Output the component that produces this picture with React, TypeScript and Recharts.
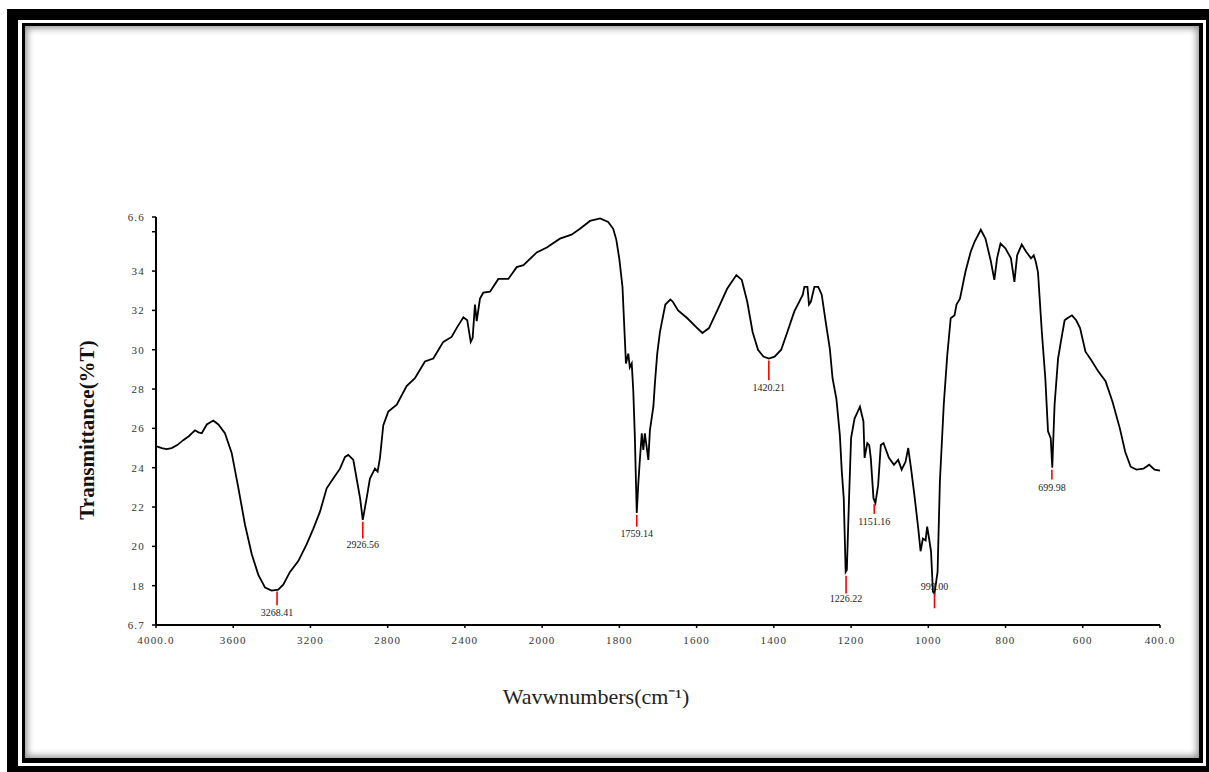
import React from 'react';
import { LineChart, Line, XAxis, YAxis, ReferenceLine, ReferenceDot } from 'recharts';

// spectrum (cm-1, %T)
const wavenumbers = [
  4000, 3970, 3945, 3919, 3890, 3859, 3830, 3815, 3798, 3780, 3763, 3737, 3703, 3677, 3643, 3608,
  3574, 3539, 3504, 3470, 3435, 3401, 3367, 3341, 3306, 3263, 3220, 3185, 3151, 3116, 3082, 3047,
  3021, 3004, 2978, 2961, 2943, 2929, 2909, 2892, 2866, 2852, 2840, 2823, 2797, 2753, 2702, 2659,
  2607, 2564, 2512, 2469, 2443, 2408, 2388, 2370, 2360, 2348, 2339, 2322, 2305, 2270, 2227, 2175,
  2132, 2097, 2028, 1988, 1954, 1924, 1902, 1876, 1850, 1829, 1816, 1808, 1800, 1792, 1786, 1783,
  1777, 1773, 1768, 1764, 1760, 1757, 1755, 1751, 1747, 1742, 1738, 1734, 1725, 1721, 1712, 1708,
  1702, 1695, 1690, 1681, 1668, 1662, 1648, 1624, 1601, 1585, 1568, 1544, 1521, 1497, 1483, 1469,
  1455, 1441, 1427, 1413, 1398, 1381, 1365, 1347, 1334, 1325, 1321, 1313, 1309, 1304, 1295, 1285,
  1276, 1266, 1255, 1248, 1238, 1229, 1224, 1219, 1214, 1211, 1205, 1200, 1191, 1177, 1168, 1165,
  1158, 1153, 1149, 1142, 1137, 1130, 1123, 1116, 1102, 1089, 1078, 1069, 1059, 1052, 1045, 1036,
  1026, 1020, 1014, 1007, 1003, 998, 993, 988, 984, 976, 970, 960, 951, 942, 932, 927,
  918, 904, 890, 880, 864, 852, 838, 829, 822, 813, 800, 786, 777, 770, 758, 747,
  734, 727, 722, 716, 706, 697, 690, 683, 679, 673, 664, 655, 647, 640, 628, 617,
  607, 593, 579, 560, 541, 523, 504, 490, 476, 461, 443, 428, 414, 400,
];

const transmittance = [
  25.1, 25.0, 24.95, 25.0, 25.15, 25.4, 25.6, 25.75, 25.9, 25.8, 25.75, 26.2, 26.4, 26.2, 25.75, 24.75,
  23.0, 21.1, 19.6, 18.55, 17.9, 17.75, 17.8, 18.05, 18.7, 19.25, 20.1, 20.9, 21.75, 22.95, 23.45, 23.95,
  24.55, 24.65, 24.4, 23.45, 22.45, 21.35, 22.45, 23.45, 23.95, 23.8, 24.5, 26.15, 26.85, 27.2, 28.15, 28.55,
  29.4, 29.55, 30.4, 30.65, 31.1, 31.65, 31.5, 30.4, 30.6, 32.3, 31.45, 32.6, 32.9, 32.95, 33.6, 33.6,
  34.2, 34.3, 34.95, 35.2, 35.65, 35.85, 36.15, 36.55, 36.68, 36.5, 36.15, 35.6, 34.6, 33.2, 30.6, 29.3,
  29.8, 29.1, 29.3, 27.9, 25.6, 23.2, 21.7, 23.2, 24.4, 25.75, 24.9, 25.75, 24.4, 25.9, 27.1, 28.3,
  29.8, 30.9, 31.4, 32.3, 32.55, 32.45, 32.0, 31.6, 31.15, 30.85, 31.1, 32.1, 33.1, 33.8, 33.55, 32.45,
  30.9, 30.0, 29.65, 29.55, 29.65, 30.0, 30.9, 31.95, 32.45, 32.8, 33.2, 33.2, 32.3, 32.45, 33.2, 33.2,
  32.8, 31.45, 30.05, 28.55, 27.5, 25.65, 23.8, 22.45, 18.7, 18.8, 22.6, 25.5, 26.5, 27.1, 26.35, 24.5,
  25.25, 25.15, 24.5, 22.45, 22.2, 23.1, 25.15, 25.25, 24.5, 24.15, 24.4, 23.9, 24.3, 25.0, 24.0, 22.6,
  20.9, 19.75, 20.4, 20.3, 21.0, 20.4, 19.75, 17.7, 17.6, 18.7, 23.3, 27.2, 29.7, 31.6, 31.75, 32.3,
  32.6, 33.95, 35.0, 35.5, 36.1, 35.65, 34.5, 33.55, 34.65, 35.4, 35.15, 34.65, 33.45, 34.8, 35.35, 35.0,
  34.65, 34.8, 34.5, 33.95, 30.9, 28.55, 25.85, 25.5, 24.0, 27.2, 29.55, 30.6, 31.5, 31.6, 31.75, 31.5,
  31.1, 29.9, 29.5, 28.9, 28.4, 27.35, 26.0, 24.8, 24.05, 23.9, 23.95, 24.15, 23.9, 23.85,
];

const xTicks = [4000, 3600, 3200, 2800, 2400, 2000, 1800, 1600, 1400, 1200, 1000, 800, 600, 400];
const xTickLabels = ['4000.0', '3600', '3200', '2800', '2400', '2000', '1800', '1600', '1400', '1200', '1000', '800', '600', '400.0'];

const yTicks = [16, 18, 20, 22, 24, 26, 28, 30, 32, 34, 36, 36.75];
const yTickLabels = ['6.7', '18', '20', '22', '24', '26', '28', '30', '32', '34', '', '6.6'];

// peak markers: where the red line sits, its ends and the label height
const peakLabels = ['3268.41', '2926.56', '1759.14', '1420.21', '1226.22', '1151.16', '999.00', '699.98'];
const peakAt = [3373, 2929, 1755, 1413, 1213, 1140, 984, 680];
const peakTop = [17.7, 21.25, 21.6, 29.45, 18.5, 22.15, 17.6, 23.9];
const peakBottom = [17.0, 20.4, 21.0, 28.45, 17.6, 21.65, 16.85, 23.4];
const peakLabelY = [16.63, 20.1, 20.68, 28.1, 17.35, 21.25, 17.98, 23.0];

// the axis is expanded 2x below 2000 cm-1
const toPos = (w: number) => (w >= 2000 ? (4000 - w) / 2 : 1000 + (2000 - w));

const data = wavenumbers.map((w, i) => ({ pos: toPos(w), t: transmittance[i] }));
const xTickPos = xTicks.map(toPos);

const serif = '"Liberation Serif", "Times New Roman", serif';
const tickStyle = { fontSize: 11, fill: '#333', fontFamily: serif, letterSpacing: 1.2 };

export default function App() {
  return (
    <div style={{ position: 'absolute', left: 0, top: 0, width: 1209, height: 772, overflow: 'hidden', background: '#fff' }}>
      <div style={{ position: 'absolute', left: 7, top: 9, width: 1210, height: 768, border: '11px solid #000', boxSizing: 'border-box' }} />
      <div
        style={{
          position: 'absolute', left: 22, top: 23, width: 1181, height: 740,
          borderStyle: 'solid', borderColor: '#000', borderWidth: '3px 4px 5px 3px',
          boxSizing: 'border-box', boxShadow: 'inset 0 0 7px 2px rgba(0,0,0,0.45)',
        }}
      />
      <div style={{ position: 'absolute', left: 0, top: 0 }}>
        <LineChart width={1209} height={772} data={data} margin={{ top: 217, right: 49, bottom: 117, left: 96 }}>
          <XAxis
            type="number"
            dataKey="pos"
            domain={[0, 2600]}
            ticks={xTickPos}
            interval={0}
            tickFormatter={(v: number) => xTickLabels[xTickPos.indexOf(v)] ?? ''}
            height={30}
            tickSize={3}
            tickMargin={8}
            axisLine={{ stroke: '#000', strokeWidth: 2 }}
            tickLine={{ stroke: '#000', strokeWidth: 1.5 }}
            tick={tickStyle}
          />
          <YAxis
            type="number"
            domain={[16, 36.75]}
            ticks={yTicks}
            interval={0}
            allowDataOverflow
            tickFormatter={(v: number) => yTickLabels[yTicks.indexOf(v)] ?? ''}
            width={60}
            tickSize={4}
            tickMargin={7}
            axisLine={{ stroke: '#000', strokeWidth: 2 }}
            tickLine={{ stroke: '#000', strokeWidth: 1.5 }}
            tick={tickStyle}
          />
          <Line
            type="linear"
            dataKey="t"
            stroke="#000"
            strokeWidth={1.8}
            dot={false}
            isAnimationActive={false}
          />
          {peakLabels.map((label, i) => (
            <ReferenceLine
              key={'l' + label}
              segment={[
                { x: toPos(peakAt[i]), y: peakTop[i] },
                { x: toPos(peakAt[i]), y: peakBottom[i] },
              ]}
              stroke="#ff0000"
              strokeWidth={1.6}
            />
          ))}
          {peakLabels.map((label, i) => (
            <ReferenceDot
              key={'d' + label}
              x={toPos(peakAt[i])}
              y={peakLabelY[i]}
              r={0}
              fill="none"
              stroke="none"
              label={{ value: label, position: 'center', fontSize: 10, fill: '#222', fontFamily: serif }}
            />
          ))}
        </LineChart>
      </div>
      <div
        style={{
          position: 'absolute', left: -43, top: 415, width: 260, height: 30, lineHeight: '30px',
          textAlign: 'center', transform: 'rotate(-90deg)', fontFamily: serif, fontWeight: 'bold',
          fontSize: 21, color: '#111',
        }}
      >
        Transmittance(%T)
      </div>
      <div
        style={{
          position: 'absolute', left: 396, top: 680, width: 400, textAlign: 'center',
          fontFamily: serif, fontSize: 22, color: '#222',
        }}
      >
        Wavwnumbers(cm⁻¹)
      </div>
    </div>
  );
}
